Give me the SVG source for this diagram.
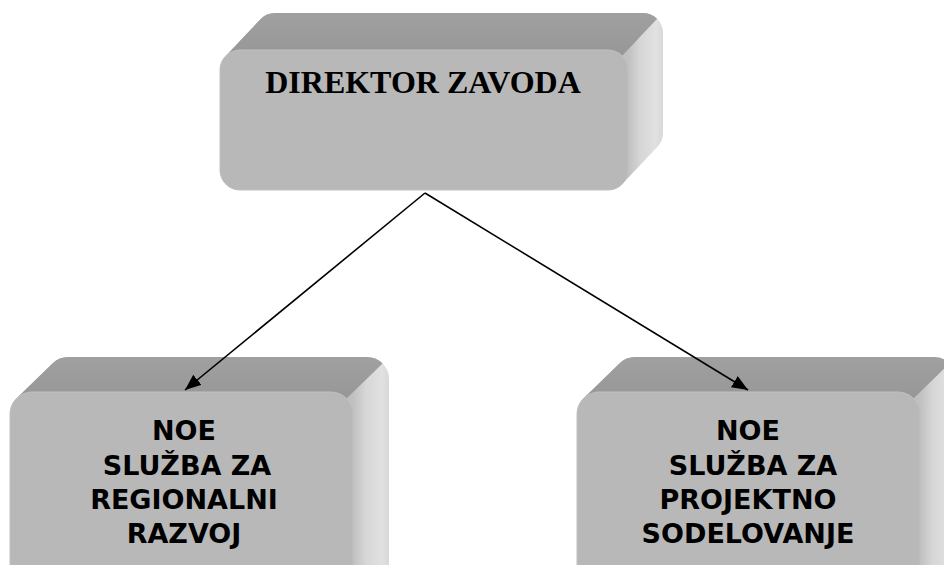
<svg xmlns="http://www.w3.org/2000/svg" width="944" height="565" viewBox="0 0 944 565">
<style>
.front{fill:#b8b8b8;stroke:#c0c0c0;stroke-width:1}
.topface{fill:url(#gTop)}
.t1{font-family:"Liberation Serif","Times New Roman",serif;font-weight:bold;font-size:32px;fill:#000}
.t2{font-family:"DejaVu Sans",Verdana,sans-serif;font-weight:bold;font-size:27px;fill:#000;text-anchor:middle}
.conn{stroke:#000;stroke-width:1.6;fill:none}
</style>
<defs>
<linearGradient id="gTop" x1="0" y1="0" x2="0" y2="1">
<stop offset="0" stop-color="#a0a0a0"/>
<stop offset="1" stop-color="#969696"/>
</linearGradient>
<linearGradient id="gSideA" gradientUnits="userSpaceOnUse" x1="628" y1="0" x2="663" y2="0">
<stop offset="0" stop-color="#c0c0c0"/>
<stop offset="0.35" stop-color="#d6d6d6"/>
<stop offset="0.8" stop-color="#e1e1e1"/>
<stop offset="1" stop-color="#d8d8d8"/>
</linearGradient>
<linearGradient id="gSideB" gradientUnits="userSpaceOnUse" x1="353" y1="0" x2="389" y2="0">
<stop offset="0" stop-color="#c0c0c0"/>
<stop offset="0.35" stop-color="#d6d6d6"/>
<stop offset="0.8" stop-color="#e1e1e1"/>
<stop offset="1" stop-color="#d8d8d8"/>
</linearGradient>
<marker id="arr" markerUnits="userSpaceOnUse" markerWidth="18" markerHeight="14" refX="16" refY="6.5" orient="auto">
<path d="M0,0 L16,6.5 L0,13 Z" fill="#000"/>
</marker>
<g id="lowerBox">
<path fill="url(#gSideB)" d="M68,357 H367 A22 22 0 0 1 389,379 V640 H10 V414 A22 22 0 0 1 16.66,398.23 L52.66,363.23 A22 22 0 0 1 68,357 Z"/>
<path class="topface" d="M16.66,398.23 L52.66,363.23 A22 22 0 0 1 68,357 H367 A22 22 0 0 1 382.56,363.44 L346.56,398.44 L331,404 H32 Z"/>
<rect class="front" x="10" y="392" width="343" height="228" rx="22"/>
</g>
</defs>

<g id="director">
<path fill="url(#gSideA)" d="M275,13 H643 A20 20 0 0 1 663,33 V133 A20 20 0 0 1 657.53,146.74 L622.53,183.74 A20 20 0 0 1 608,190 H240 A20 20 0 0 1 220,170 V70 A20 20 0 0 1 225.47,56.26 L260.47,19.26 A20 20 0 0 1 275,13 Z"/>
<path class="topface" d="M225.47,56.26 L260.47,19.26 A20 20 0 0 1 275,13 H643 A20 20 0 0 1 657.14,18.86 L622.14,55.86 L608,62 H240 Z"/>
<rect class="front" x="220" y="50" width="408" height="140" rx="20"/>
<text class="t1" x="423" y="93" text-anchor="middle">DIREKTOR ZAVODA</text>
</g>

<g id="regional">
<use href="#lowerBox"/>
<text class="t2" x="184" y="440">NOE</text>
<text class="t2" x="187" y="475">SLUŽBA ZA</text>
<text class="t2" x="184" y="509">REGIONALNI</text>
<text class="t2" x="184" y="543">RAZVOJ</text>
</g>

<g id="projektno">
<use href="#lowerBox" transform="translate(567,0)"/>
<text class="t2" x="748" y="440">NOE</text>
<text class="t2" x="753" y="475">SLUŽBA ZA</text>
<text class="t2" x="748" y="509">PROJEKTNO</text>
<text class="t2" x="748" y="543">SODELOVANJE</text>
</g>

<g id="connectors">
<line class="conn" x1="425" y1="193" x2="185" y2="390" marker-end="url(#arr)"/>
<line class="conn" x1="425" y1="193" x2="748" y2="390" marker-end="url(#arr)"/>
</g>
</svg>
